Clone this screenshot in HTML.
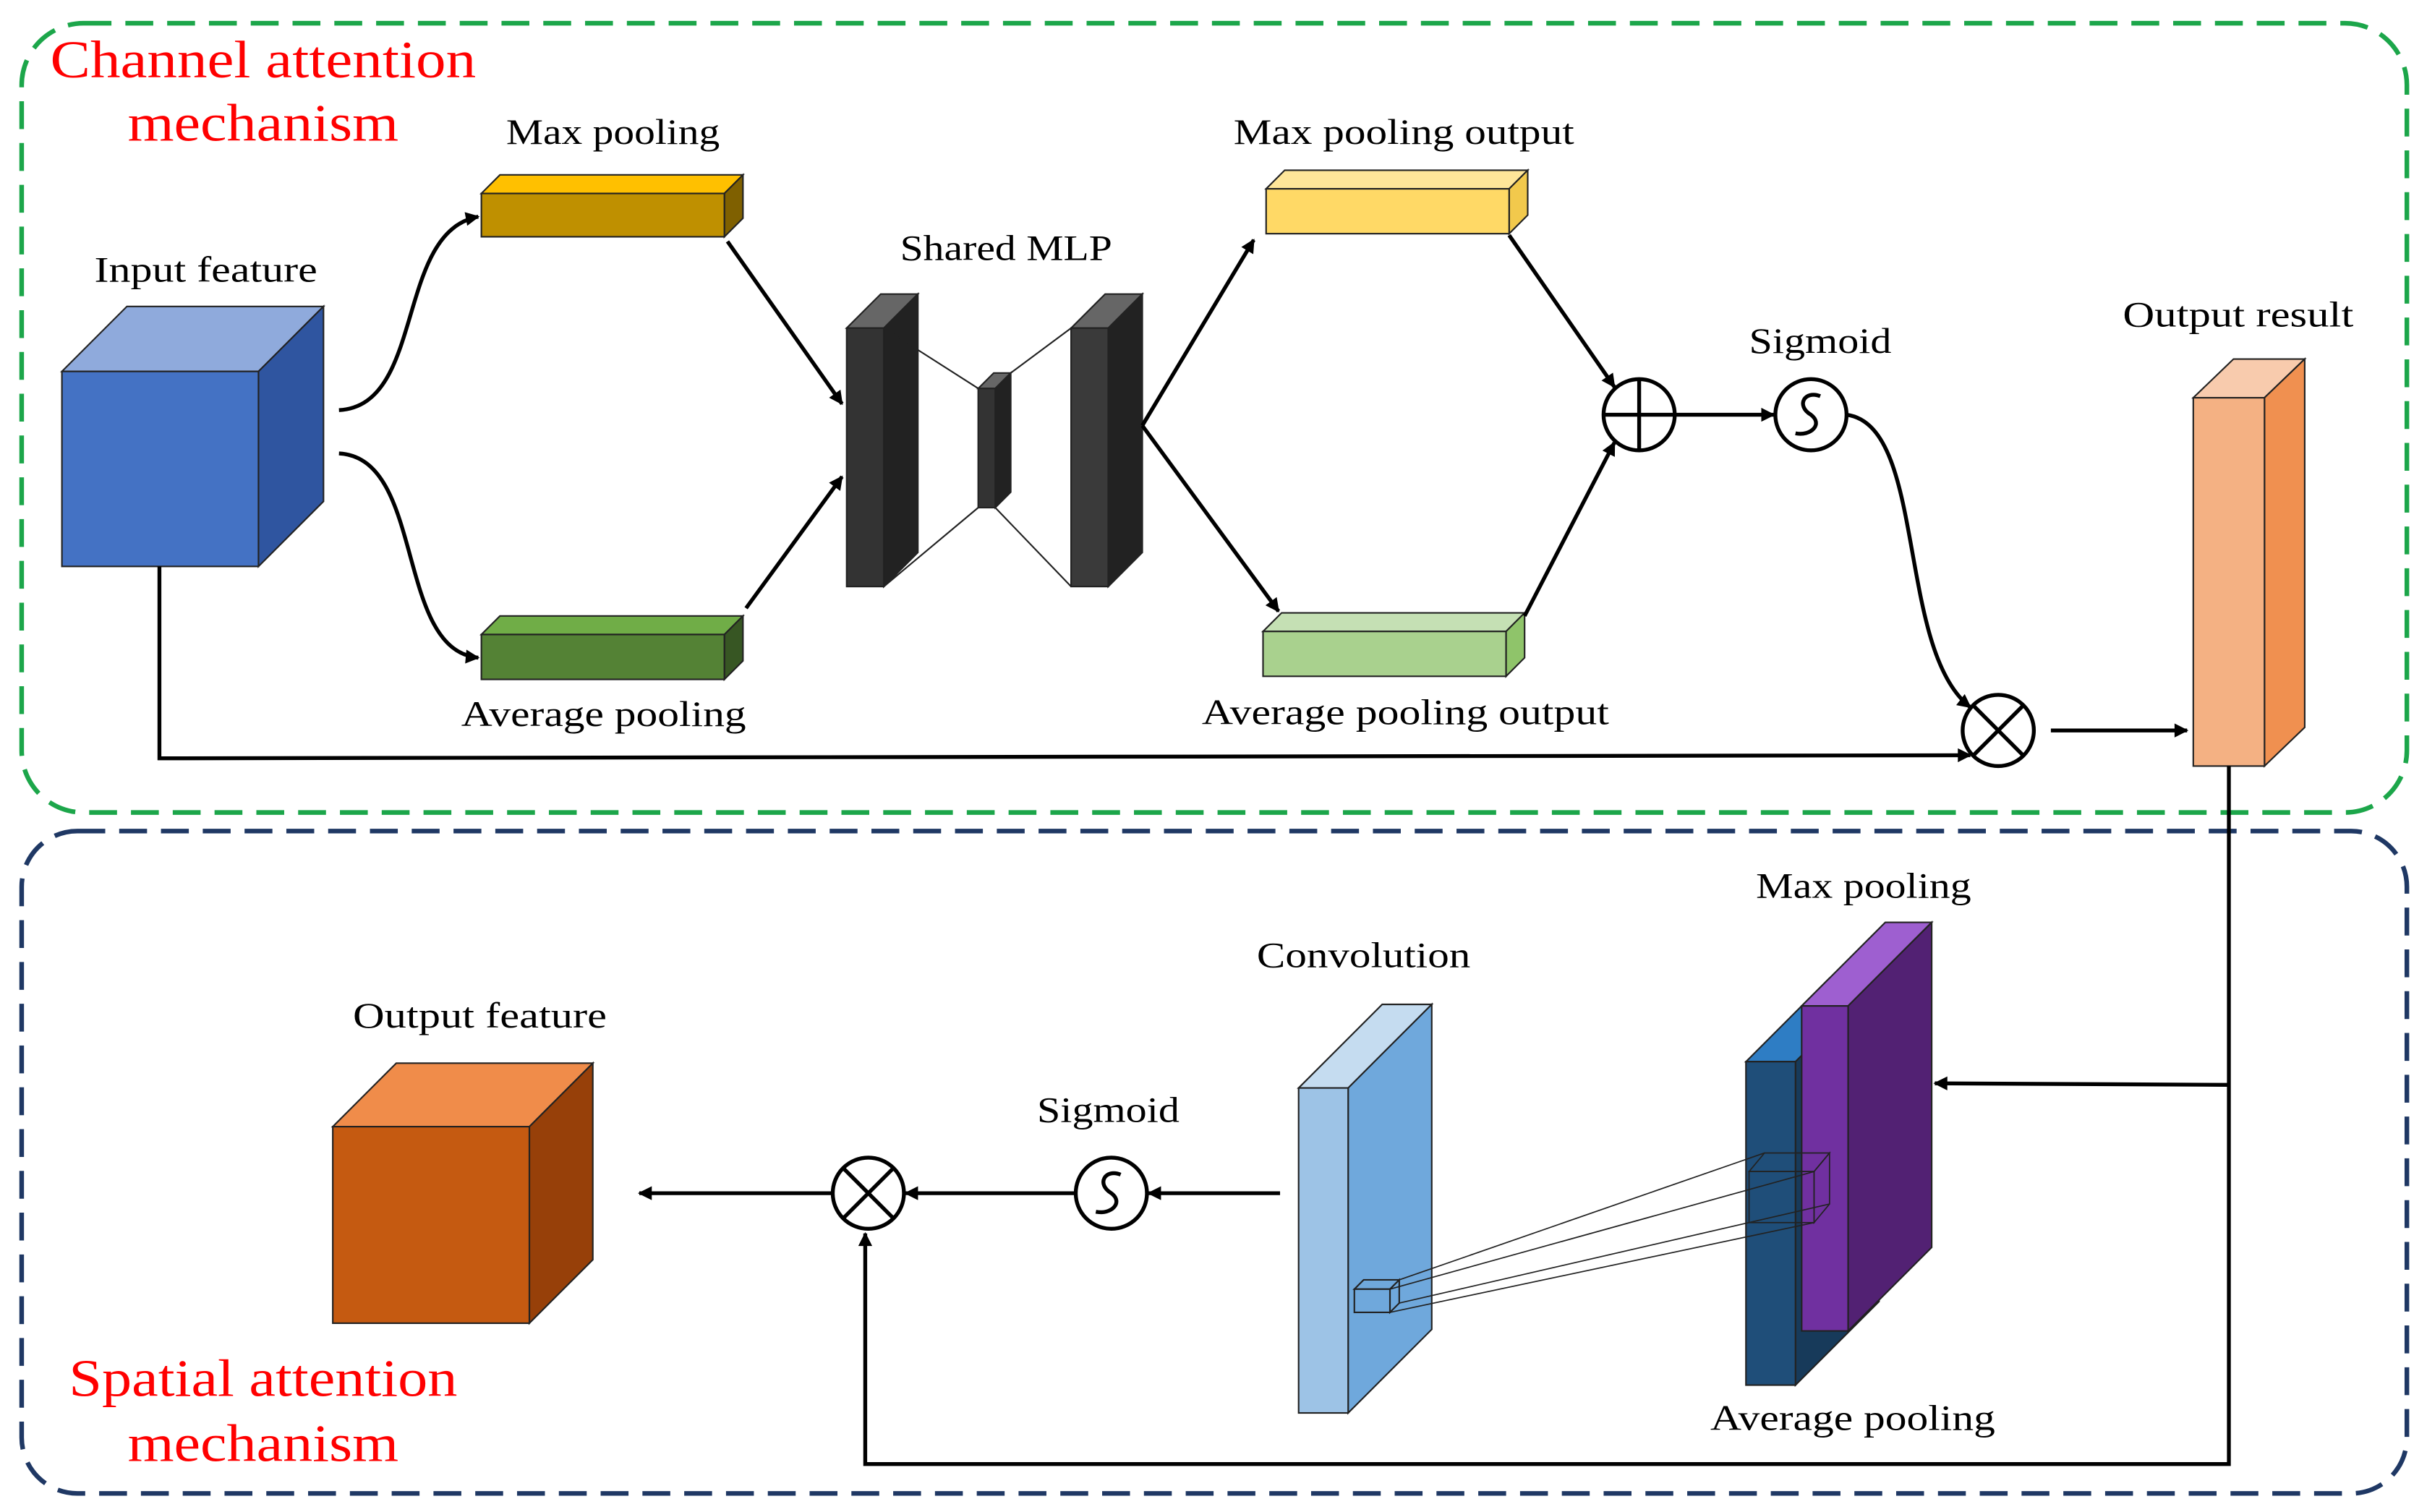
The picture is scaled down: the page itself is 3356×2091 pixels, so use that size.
<!DOCTYPE html>
<html><head><meta charset="utf-8"><style>
html,body{margin:0;padding:0;background:#fff;}
svg{display:block;}
text{font-family:"Liberation Serif",serif;}
</style></head><body>
<svg width="3356" height="2091" viewBox="0 0 1568 977" preserveAspectRatio="none" xmlns="http://www.w3.org/2000/svg">
<defs>
<marker id="a" viewBox="0 0 10 10" refX="9" refY="5" markerWidth="10" markerHeight="9" orient="auto" markerUnits="userSpaceOnUse">
<path d="M0,0 L10,5 L0,10 z" fill="#000"/></marker>
</defs>
<rect x="14" y="15" width="1541" height="510" rx="40" fill="none" stroke="#1ca64a" stroke-width="3" stroke-dasharray="18,9"/>
<rect x="14" y="537" width="1541" height="428" rx="36" fill="none" stroke="#1f3864" stroke-width="3" stroke-dasharray="18,9"/>
<g fill="#ff0000" font-size="34" text-anchor="middle" lengthAdjust="spacingAndGlyphs">
<text x="170" y="50" textLength="275" lengthAdjust="spacingAndGlyphs">Channel attention</text>
<text x="170" y="91" textLength="175" lengthAdjust="spacingAndGlyphs">mechanism</text>
<text x="170" y="902" textLength="251" lengthAdjust="spacingAndGlyphs">Spatial attention</text>
<text x="170" y="944" textLength="175" lengthAdjust="spacingAndGlyphs">mechanism</text>
</g>
<g font-size="23" text-anchor="middle" fill="#000">
<text x="133" y="182" textLength="144" lengthAdjust="spacingAndGlyphs">Input feature</text>
<text x="396" y="93" textLength="138" lengthAdjust="spacingAndGlyphs">Max pooling</text>
<text x="390" y="469" textLength="184" lengthAdjust="spacingAndGlyphs">Average pooling</text>
<text x="650" y="168" textLength="137" lengthAdjust="spacingAndGlyphs">Shared MLP</text>
<text x="907" y="93" textLength="220" lengthAdjust="spacingAndGlyphs">Max pooling output</text>
<text x="908" y="468" textLength="263" lengthAdjust="spacingAndGlyphs">Average pooling output</text>
<text x="1176" y="228" textLength="92" lengthAdjust="spacingAndGlyphs">Sigmoid</text>
<text x="1446" y="211" textLength="149" lengthAdjust="spacingAndGlyphs">Output result</text>
<text x="1204" y="580" textLength="139" lengthAdjust="spacingAndGlyphs">Max pooling</text>
<text x="1197" y="924" textLength="184" lengthAdjust="spacingAndGlyphs">Average pooling</text>
<text x="881" y="625" textLength="138" lengthAdjust="spacingAndGlyphs">Convolution</text>
<text x="716" y="725" textLength="92" lengthAdjust="spacingAndGlyphs">Sigmoid</text>
<text x="310" y="664" textLength="164" lengthAdjust="spacingAndGlyphs">Output feature</text>
</g>
<g stroke="#222" stroke-width="1">
<polygon points="40,240 167,240 209,198 82,198" fill="#8faadc"/>
<polygon points="167,240 209,198 209,324 167,366" fill="#2f55a0"/>
<rect x="40" y="240" width="127" height="126" fill="#4472c4"/>
<polygon points="311,125 468,125 480,113 323,113" fill="#ffc000"/>
<polygon points="468,125 480,113 480,141 468,153" fill="#7f6000"/>
<rect x="311" y="125" width="157" height="28" fill="#bf9000"/>
<polygon points="311,410 468,410 480,398 323,398" fill="#70ad47"/>
<polygon points="468,410 480,398 480,427 468,439" fill="#375623"/>
<rect x="311" y="410" width="157" height="29" fill="#548235"/>
<polygon points="547,212 571,212 593,190 569,190" fill="#666"/>
<polygon points="571,212 593,190 593,357 571,379" fill="#222"/>
<rect x="547" y="212" width="24" height="167" fill="#333"/>
<polygon points="632,251 643,251 653,241 642,241" fill="#666"/>
<polygon points="643,251 653,241 653,318 643,328" fill="#222"/>
<rect x="632" y="251" width="11" height="77" fill="#333"/>
<polygon points="692,212 716,212 738,190 714,190" fill="#666"/>
<polygon points="716,212 738,190 738,357 716,379" fill="#222"/>
<rect x="692" y="212" width="24" height="167" fill="#3a3a3a"/>
<line x1="571" y1="212" x2="632" y2="251"/><line x1="571" y1="379" x2="632" y2="328"/>
<line x1="692" y1="212" x2="653" y2="241"/><line x1="692" y1="379" x2="643" y2="328"/>
<polygon points="818,122 975,122 987,110 830,110" fill="#ffe699"/>
<polygon points="975,122 987,110 987,139 975,151" fill="#f2c94c"/>
<rect x="818" y="122" width="157" height="29" fill="#ffd966"/>
<polygon points="816,408 973,408 985,396 828,396" fill="#c5e0b4"/>
<polygon points="973,408 985,396 985,425 973,437" fill="#8fc46a"/>
<rect x="816" y="408" width="157" height="29" fill="#a9d18e"/>
<polygon points="1417,257 1463,257 1489,232 1443,232" fill="#f8cbad"/>
<polygon points="1463,257 1489,232 1489,470 1463,495" fill="#f09050"/>
<rect x="1417" y="257" width="46" height="238" fill="#f4b183"/>
<polygon points="1128,686 1160,686 1214,632 1182,632" fill="#2e7dc4"/>
<polygon points="1160,686 1214,632 1214,841 1160,895" fill="#173a5a"/>
<rect x="1128" y="686" width="32" height="209" fill="#1f4e79"/>
<polygon points="1164,650 1194,650 1248,596 1218,596" fill="#9e5fd0"/>
<polygon points="1194,650 1248,596 1248,806 1194,860" fill="#522173"/>
<rect x="1164" y="650" width="30" height="210" fill="#7030a0"/>
<polygon points="839,703 871,703 925,649 893,649" fill="#c5dcf0"/>
<polygon points="871,703 925,649 925,859 871,913" fill="#6fa8dc"/>
<rect x="839" y="703" width="32" height="210" fill="#9dc3e6"/>
<polygon points="875,833 898,833 904,827 881,827" fill="#6fa8dc"/>
<polygon points="898,833 904,827 904,842 898,848" fill="#6fa8dc"/>
<rect x="875" y="833" width="23" height="15" fill="#6fa8dc"/>
<g fill="none" stroke="#222" stroke-width="0.8">
<rect x="1130" y="757" width="42" height="33"/>
<polygon points="1130,757 1140,745 1182,745 1172,757"/>
<polygon points="1172,757 1182,745 1182,778 1172,790"/>
<line x1="904" y1="827" x2="1140" y2="745"/>
<line x1="898" y1="833" x2="1172" y2="757"/>
<line x1="904" y1="842" x2="1182" y2="778"/>
<line x1="898" y1="848" x2="1172" y2="790"/>
</g>
<polygon points="215,728 342,728 383,687 256,687" fill="#f08c4a"/>
<polygon points="342,728 383,687 383,814 342,855" fill="#974009"/>
<rect x="215" y="728" width="127" height="127" fill="#c55a11"/>
</g>
<g fill="none" stroke="#000" stroke-width="2.5">
<path d="M219,265 C275,262 255,150 309,140" marker-end="url(#a)"/>
<path d="M219,293 C275,296 255,420 309,425" marker-end="url(#a)"/>
<line x1="470" y1="156" x2="544" y2="261" marker-end="url(#a)"/>
<line x1="482" y1="393" x2="544" y2="308" marker-end="url(#a)"/>
<line x1="738" y1="275" x2="810" y2="155" marker-end="url(#a)"/>
<line x1="738" y1="275" x2="826" y2="395" marker-end="url(#a)"/>
<line x1="975" y1="152" x2="1043" y2="250" marker-end="url(#a)"/>
<line x1="985" y1="398" x2="1043" y2="286" marker-end="url(#a)"/>
<line x1="1082" y1="268" x2="1146" y2="268" marker-end="url(#a)"/>
<path d="M1193,268 C1245,275 1225,420 1273,457" marker-end="url(#a)"/>
<polyline points="103,366 103,490 1273,488" marker-end="url(#a)"/>
<line x1="1325" y1="472" x2="1413" y2="472" marker-end="url(#a)"/>
<polyline points="1440,495 1440,946 559,946 559,797" marker-end="url(#a)"/>
<polyline points="1440,701 1250,700" marker-end="url(#a)"/>
<line x1="827" y1="771" x2="742" y2="771" marker-end="url(#a)"/>
<line x1="694" y1="771" x2="585" y2="771" marker-end="url(#a)"/>
<line x1="538" y1="771" x2="413" y2="771" marker-end="url(#a)"/>
<circle cx="1059" cy="268" r="23" fill="#fff"/>
<line x1="1036" y1="268" x2="1082" y2="268"/><line x1="1059" y1="245" x2="1059" y2="291"/>
<circle cx="1170" cy="268" r="23" fill="#fff"/>
<path d="M1176,256 C1166,252 1160,262 1170,268 C1178,274 1170,282 1160,280"/>
<circle cx="1291" cy="472" r="23" fill="#fff"/>
<line x1="1275" y1="456" x2="1307" y2="488"/><line x1="1307" y1="456" x2="1275" y2="488"/>
<circle cx="718" cy="771" r="23" fill="#fff"/>
<path d="M724,759 C714,755 708,765 718,771 C726,777 718,785 708,783"/>
<circle cx="561" cy="771" r="23" fill="#fff"/>
<line x1="545" y1="755" x2="577" y2="787"/><line x1="577" y1="755" x2="545" y2="787"/>
</g>
</svg>
</body></html>
